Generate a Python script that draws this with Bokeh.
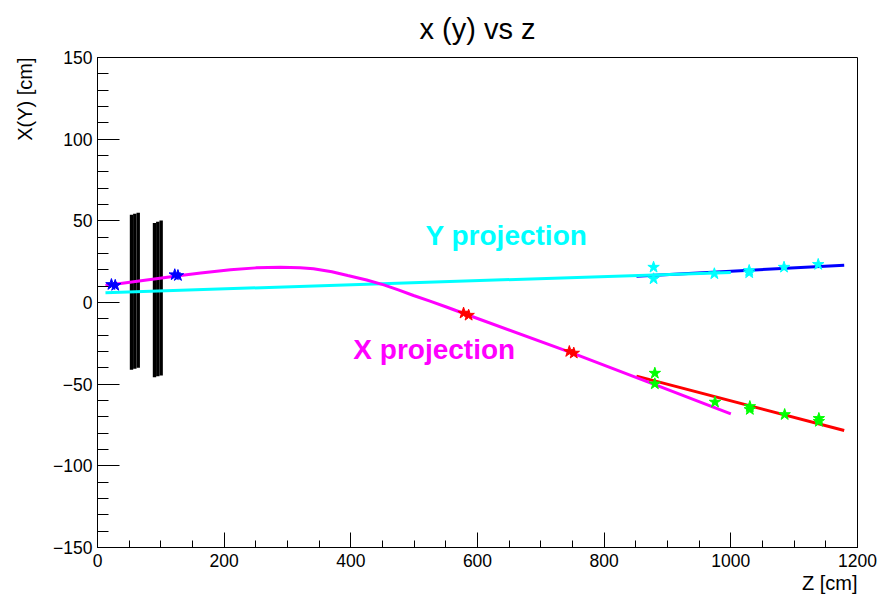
from bokeh.plotting import figure
from bokeh.models import Range1d, SingleIntervalTicker, CustomJSTickFormatter, Label, Title
from bokeh.embed import file_html
from bokeh.resources import INLINE

FONT = "Liberation Sans"

# Detector planes near the target: one vertical strip per entry (z, top, bottom)
plane_z = [53.7, 58.9, 64.3, 90.0, 95.2, 100.5]
plane_top = [53.7, 54.3, 54.9, 48.6, 49.4, 50.2]
plane_bottom = [-41.2, -40.6, -40.0, -45.7, -45.1, -44.7]

# Extrapolated track, X projection
x_track_z = [12.6, 131, 163, 210, 250, 289, 320, 341, 370, 395, 425, 452, 475, 499,
             525, 552, 586, 750, 878, 1000]
x_track_v = [10.4, 16.5, 18.0, 20.0, 21.2, 21.6, 21.3, 20.6, 18.8, 16.5, 13.8, 10.8, 7.7, 4.3,
             0.8, -2.9, -7.8, -31.0, -50.0, -68.2]

# Extrapolated track, Y projection
y_track_z = [12.6, 1000]
y_track_v = [6.0, 18.4]

# Straight-line fits to the downstream hits
x_fit_z = [851, 1179]
x_fit_v = [-45.1, -78.4]
y_fit_z = [851, 1179]
y_fit_v = [16.1, 22.8]

# Hits
vertex_z = [22, 28, 122, 127]
vertex_v = [11.0, 10.5, 17.0, 16.5]
mid_z = [578, 586, 745, 752]
mid_v = [-6.5, -7.8, -30.0, -31.0]
down_x_z = [880, 880, 975, 1030, 1030, 1085, 1139, 1139]
down_x_v = [-43.3, -49.8, -61.0, -63.7, -65.5, -68.6, -71.0, -72.8]
down_y_z = [878, 878, 974, 1029, 1029, 1084, 1138]
down_y_v = [21.6, 14.5, 17.6, 19.6, 18.2, 21.6, 23.3]

p = figure(width=880, height=599, output_backend="svg", toolbar_location=None,
           x_range=Range1d(0, 1200), y_range=Range1d(-150, 150),
           min_border_left=97, min_border_right=23, min_border_top=57, min_border_bottom=52,
           background_fill_color="white", border_fill_color="white")

p.title.text = "x (y) vs z"
p.title.align = "center"
p.title.vertical_align = "top"
p.title.text_font = FONT
p.title.text_font_size = "29px"
p.title.text_font_style = "normal"
p.title.text_color = "black"
p.title.standoff = 22

p.outline_line_color = "black"
p.outline_line_width = 1
p.xgrid.visible = False
p.ygrid.visible = False

minus_fmt = "return (tick < 0 ? '\u2212' : '') + Math.abs(tick).toString();"
p.xaxis.ticker = SingleIntervalTicker(interval=200, num_minor_ticks=4)
p.yaxis.ticker = SingleIntervalTicker(interval=50, num_minor_ticks=5)
for ax, major, minor, standoff in ((p.xaxis, 15, 7, 6), (p.yaxis, 22, 11, 5)):
    ax.formatter = CustomJSTickFormatter(code=minus_fmt)
    ax.major_tick_in = major
    ax.major_tick_out = 0
    ax.minor_tick_in = minor
    ax.minor_tick_out = 0
    ax.axis_line_color = "black"
    ax.major_tick_line_color = "black"
    ax.minor_tick_line_color = "black"
    ax.major_label_text_font = FONT
    ax.major_label_text_font_size = "17.5px"
    ax.major_label_text_color = "black"
    ax.major_label_standoff = standoff

# axis titles, placed at the far ends of the axes
p.add_layout(Title(text="Z [cm]", align="right", text_font=FONT, text_font_size="20px",
                   text_font_style="normal", text_color="black", standoff=0), "below")
p.add_layout(Title(text="X(Y) [cm]", align="right", vertical_align="top", text_font=FONT,
                   text_font_size="20px", text_font_style="normal", text_color="black",
                   standoff=26), "left")

# detector planes
p.segment(x0=plane_z, y0=plane_bottom, x1=plane_z, y1=plane_top,
          line_color="black", line_width=3.4)

# fits and track projections
p.line(y_fit_z, y_fit_v, line_color="#0000ff", line_width=3)
p.line(x_fit_z, x_fit_v, line_color="#ff0000", line_width=3)
p.line(y_track_z, y_track_v, line_color="#00ffff", line_width=3)
p.line(x_track_z, x_track_v, line_color="#ff00ff", line_width=3)

# hits
p.scatter(vertex_z, vertex_v, marker="star", size=12, fill_color="#0000ff", line_color="#0000ff")
p.scatter(mid_z, mid_v, marker="star", size=12, fill_color="#ff0000", line_color="#ff0000")
p.scatter(down_x_z, down_x_v, marker="star", size=12, fill_color="#00ff00", line_color="#00ff00")
p.scatter(down_y_z, down_y_v, marker="star", size=12, fill_color="#00ffff", line_color="#00ffff")

p.add_layout(Label(x=518, y=41.2, text="Y projection", text_font=FONT, text_font_size="28px",
                   text_font_style="bold", text_color="#00ffff", text_baseline="alphabetic"))
p.add_layout(Label(x=404, y=-29, text="X projection", text_font=FONT, text_font_size="28px",
                   text_font_style="bold", text_color="#ff00ff", text_baseline="alphabetic"))

open("out.html", "w").write(file_html(p, INLINE))
